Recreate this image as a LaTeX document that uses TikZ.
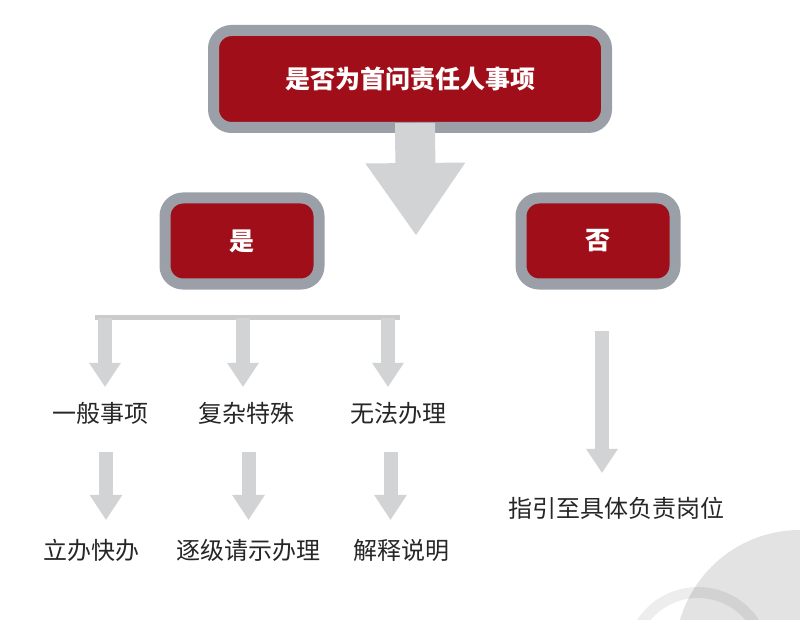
\documentclass[tikz,border=0pt]{standalone}
\usepackage{fontspec}
\setmainfont{Noto Sans CJK SC}
\usetikzlibrary{arrows.meta}
\definecolor{boxred}{HTML}{A00F19}
\definecolor{rimgray}{HTML}{9BA0A8}
\definecolor{arrowgray}{HTML}{D1D3D5}
\definecolor{bargray}{HTML}{C9CBCD}

\begin{document}
\begin{tikzpicture}[x=1pt,y=-1pt,
  box/.style={draw=rimgray,line width=11pt,fill=boxred,rounded corners=18pt,text=white,font=\bfseries\fontsize{25}{30}\selectfont},
  lbl/.style={inner sep=0pt,minimum height=26pt,text=black!85,font=\fontsize{24}{28}\selectfont},
  blk/.style={draw=arrowgray,line width=14pt,-{Triangle[width=32pt,length=24pt,line width=0pt]}},
  blk2/.style={blk,-{Triangle[width=33pt,length=25pt,line width=0pt]},shorten <=26pt,shorten >=17pt}]
  \useasboundingbox (0,0) rectangle (800,620);
  \begin{scope}
  \clip (0,0) rectangle (800,620);
  \fill[black!11] (800,655) circle (125pt);
  \draw[black,draw opacity=0.07,line width=11pt] (698,660) circle (67.5pt);
  \end{scope}
  \node[box,minimum width=393pt,minimum height=97pt] (0) at (410,79){是否为首问责任人事项};
  \node[box,minimum width=154pt,minimum height=86pt] (1) at (242,241){是};
  \node[box,minimum width=154pt,minimum height=86pt] (2) at (598,241){否};
  \node[lbl] (3) at (100,413){一般事项};
  \node[lbl] (4) at (246,413){复杂特殊};
  \node[lbl] (5) at (398,413){无法办理};
  \node[lbl] (6) at (91,550){立办快办};
  \node[lbl] (7) at (248,550){逐级请示办理};
  \node[lbl] (8) at (401,550){解释说明};
  \node[lbl] (9) at (616,508){指引至具体负责岗位};
  \coordinate (10) at (95,317.5);
  \coordinate (11) at (400,317.5);
  \coordinate (12) at (105,318);
  \coordinate (13) at (243,318);
  \coordinate (14) at (388,318);
  \coordinate (15) at (416,235);
  \draw[draw=arrowgray,line width=40pt,-{Triangle[width=100pt,length=72pt,line width=0pt]}] ([xshift=5pt,yshift=10pt]0.south)--(15);
  \draw[bargray,line width=5pt] (10)--(11);
  \draw[blk,shorten >=13pt] (12)--(12 |- 3.north);
  \draw[blk,shorten >=13pt] (13)--(13 |- 4.north);
  \draw[blk,shorten >=13pt] (14)--(14 |- 5.north);
  \draw[blk2] ([xshift=6pt]3.south)--([xshift=15pt]6.north);
  \draw[blk2] ([xshift=2.5pt]4.south)--([xshift=0.5pt]7.north);
  \draw[blk2] ([xshift=-7.5pt]5.south)--([xshift=-10.5pt]8.north);
  \draw[blk,shorten <=41.5pt,shorten >=22pt] ([xshift=4pt]2.south)--([xshift=-14pt]9.north);
  \end{tikzpicture}
\end{document}
